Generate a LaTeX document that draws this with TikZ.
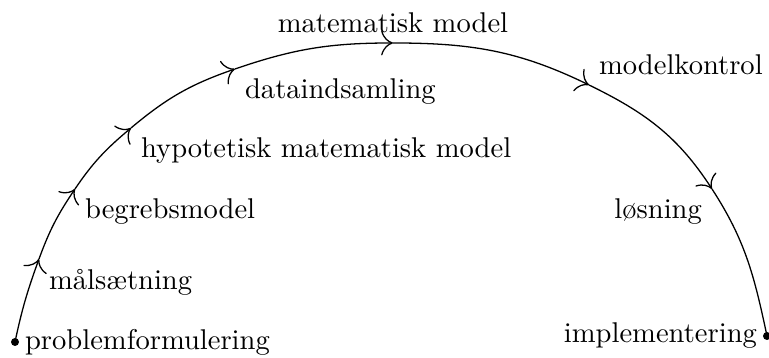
\documentclass[tikz,border=0pt]{standalone}
\usetikzlibrary{arrows.meta}
\begin{document}
\begin{tikzpicture}[x=0.35pt,y=0.35pt,
  seg/.style={-{To[scale=1.6]},line width=0.45pt},
  plain/.style={line width=0.45pt},
  dotmark/.style={fill=black}]
\useasboundingbox (0,0) rectangle (769,358);
\coordinate (p0) at (15,16);
\coordinate (p1) at (39,99);
\coordinate (p2) at (75,169);
\coordinate (p3) at (131,230);
\coordinate (p4) at (235,289);
\coordinate (p5) at (393,315);
\coordinate (p6) at (589,273);
\coordinate (p7) at (712,169);
\coordinate (p8) at (767,22);
\draw[seg] (p0) to[out=78,in=250] (p1);
\draw[seg] (p1) to[out=70,in=236] (p2);
\draw[seg] (p2) to[out=56,in=220] (p3);
\draw[seg] (p3) to[out=40,in=199] (p4);
\draw[seg] (p4) to[out=19,in=180] (p5);
\draw[seg] (p5) to[out=0,in=154] (p6);
\draw[seg] (p6) to[out=-26,in=123] (p7);
\draw[plain] (p7) to[out=-57,in=102] (p8);
\fill[dotmark] (p0) circle (1.4pt);
\fill[dotmark] (p8) circle (1.4pt);
\node[right] (n0) at (p0) {problemformulering};
\node[below right] (n1) at (p1) {målsætning};
\node[below right] (n2) at (p2) {begrebsmodel};
\node[below right] (n3) at (p3) {hypotetisk matematisk model};
\node[below right] (n4) at (p4) {dataindsamling};
\node[above] (n5) at (p5) {matematisk model};
\node[above right] (n6) at (p6) {modelkontrol};
\node[below left] (n7) at (p7) {løsning};
\node[left] (n8) at (p8) {implementering};
\end{tikzpicture}
\end{document}
